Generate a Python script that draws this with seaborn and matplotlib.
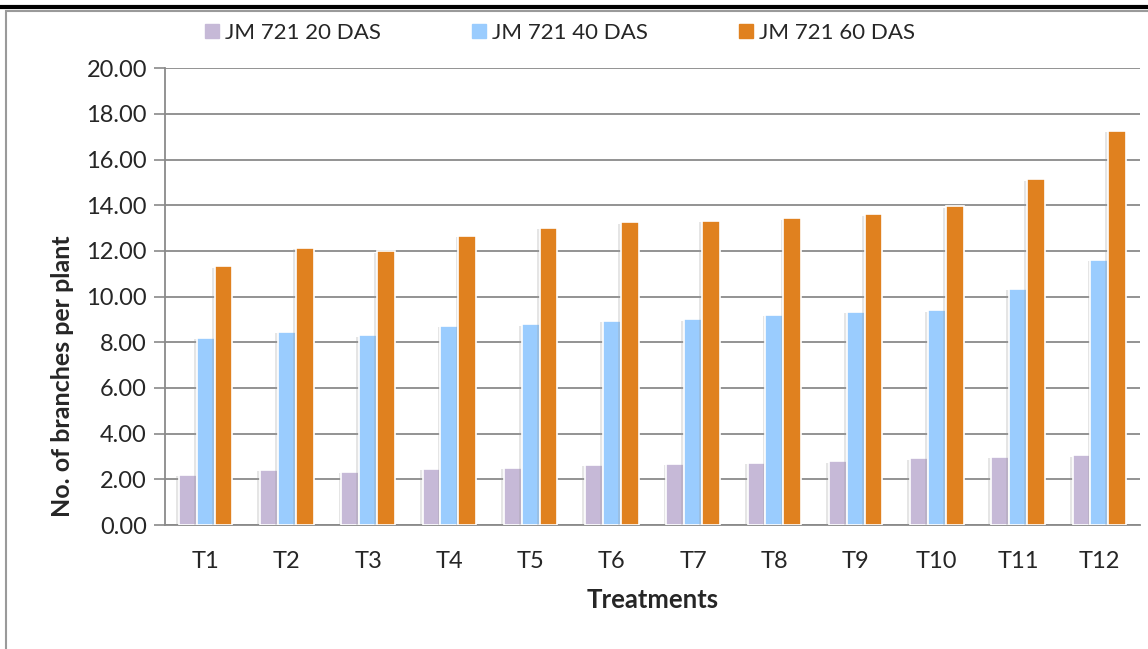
import numpy as np
import pandas as pd
import seaborn as sns
import matplotlib.pyplot as plt
import matplotlib.patheffects as pe
from matplotlib.patches import Rectangle
from matplotlib.lines import Line2D

treatments = ['T1', 'T2', 'T3', 'T4', 'T5', 'T6', 'T7', 'T8', 'T9', 'T10', 'T11', 'T12']
das_20 = [2.19, 2.41, 2.32, 2.46, 2.51, 2.63, 2.68, 2.73, 2.79, 2.92, 2.99, 3.05]
das_40 = [8.20, 8.47, 8.31, 8.72, 8.78, 8.93, 9.00, 9.20, 9.34, 9.40, 10.33, 11.60]
das_60 = [11.33, 12.14, 11.99, 12.65, 13.00, 13.26, 13.33, 13.43, 13.60, 13.95, 15.13, 17.27]
series = ['JM 721 20 DAS', 'JM 721 40 DAS', 'JM 721 60 DAS']
colours = ['#C6B9D7', '#9ACCFE', '#E0811F']

df = pd.DataFrame({
    'Treatment': treatments * 3,
    'Series': [series[0]] * 12 + [series[1]] * 12 + [series[2]] * 12,
    'Value': das_20 + das_40 + das_60,
})

sns.set_style('white')
plt.rcParams['font.family'] = ['Lato', 'DejaVu Sans']

fig = plt.figure(figsize=(11.48, 6.49), dpi=100)
ax = fig.add_axes([0.1437, 0.191, 0.8493, 0.704])

sns.barplot(data=df, x='Treatment', y='Value', hue='Series', palette=colours,
            saturation=1, width=0.66, edgecolor='white', linewidth=1.2, ax=ax,
            legend=False, zorder=3)

# soft grey shadow round the bars, Excel style
for bar in ax.patches:
    bar.set_path_effects([pe.SimplePatchShadow(offset=(-2, -1), shadow_rgbFace='0.6', alpha=0.25),
                          pe.Normal()])

ax.set_ylim(0, 20)
ax.set_xlim(-0.5, 11.5)
ax.set_yticks(np.arange(0, 21, 2))
ax.set_yticklabels([f'{v:.2f}' for v in np.arange(0, 21, 2)], fontsize=17)
ax.tick_params(axis='x', labelsize=17, length=0, pad=19)
ax.tick_params(axis='y', length=8, width=1.2, color='#8a8a8a', left=True, pad=5)

ax.grid(axis='y', color='#8a8a8a', linewidth=1.3, zorder=0)
ax.set_axisbelow(True)
ax.spines[['top', 'right']].set_visible(False)
for side in ['left', 'bottom']:
    ax.spines[side].set_color('#8a8a8a')
    ax.spines[side].set_linewidth(1.3)

ax.set_xlabel('Treatments', fontsize=18.5, fontweight='bold', labelpad=11)
ax.set_ylabel('No. of branches per plant', fontsize=18, fontweight='bold')
ax.yaxis.set_label_coords(-0.093, 0.326)

handles = [Line2D([0], [0], marker='s', linestyle='none', markersize=10,
                  markerfacecolor=c, markeredgecolor=c) for c in colours]
fig.legend(handles, series, loc='center', bbox_to_anchor=(0.486, 0.949), ncol=3,
           frameon=False, fontsize=16, handletextpad=0.1, columnspacing=3.9,
           handlelength=1.0)

# frame of the figure and the black rule above it
fig.add_artist(Rectangle((6 / 1148, -0.05), 1.2, 1 - 11 / 649 + 0.05, transform=fig.transFigure,
                         fill=False, edgecolor='#9a9a9a', linewidth=1.5))
fig.add_artist(Line2D([0, 1], [1 - 6.5 / 649, 1 - 6.5 / 649], transform=fig.transFigure,
                      color='black', linewidth=3))

fig.savefig('out.png', dpi=100)
